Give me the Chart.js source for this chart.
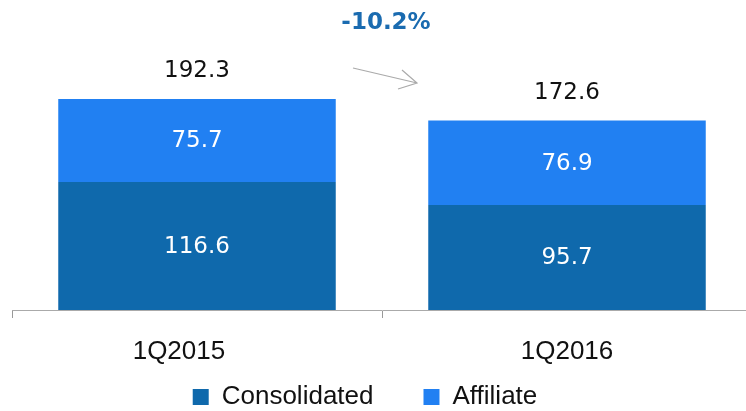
<!DOCTYPE html>
<html>
<head>
<meta charset="utf-8">
<script src="https://cdn.jsdelivr.net/npm/chart.js@4/dist/chart.umd.min.js"></script>
<style>
html,body{margin:0;padding:0;overflow:hidden;background:#fff;width:746px;height:411px;}
#wrap{width:760px;height:458px;position:absolute;left:0;top:0;}
</style>
</head>
<body>
<div id="wrap"><canvas id="c"></canvas></div>
<script>
const categories = ['1Q2015', '1Q2016'];
const consolidated = [116.6, 95.7];
const affiliate = [75.7, 76.9];
const totals = [192.3, 172.6];
const changeLabel = '-10.2%';
// the first category label sits left of its bar in the reference
const labelPad = ['     ', ''];

const labelPlugin = {
  id: 'labels',
  afterLayout(chart) {
    const lg = chart.legend;
    if (lg) { lg.left -= 17; lg.right -= 17; lg.top -= 38; lg.bottom -= 38; }
  },
  afterDatasetsDraw(chart) {
    const ctx = chart.ctx;
    ctx.save();
    ctx.textAlign = 'center';
    ctx.textBaseline = 'middle';
    ctx.font = '23px "DejaVu Sans"';
    ctx.fillStyle = '#ffffff';
    chart.data.datasets.forEach((ds, i) => {
      const meta = chart.getDatasetMeta(i);
      meta.data.forEach((bar, j) => {
        const yc = (bar.y + bar.base) / 2;
        ctx.fillText(ds.data[j].toFixed(1), bar.x, yc + 1);
      });
    });
    const topMeta = chart.getDatasetMeta(1);
    ctx.fillStyle = '#111111';
    topMeta.data.forEach((bar, j) => {
      ctx.fillText(totals[j].toFixed(1), bar.x, bar.y - 28);
    });
    const x0 = topMeta.data[0].x, x1 = topMeta.data[1].x;
    const mid = (x0 + x1) / 2;
    ctx.font = 'bold 23px "DejaVu Sans"';
    ctx.fillStyle = '#1A6BB0';
    ctx.fillText(changeLabel, mid + 4, 23);
    ctx.strokeStyle = '#aaaaaa';
    ctx.lineWidth = 1.2;
    ctx.beginPath();
    ctx.moveTo(mid - 29, 68);
    ctx.lineTo(mid + 35, 83);
    ctx.moveTo(mid + 20, 70);
    ctx.lineTo(mid + 35, 83);
    ctx.lineTo(mid + 16, 89);
    ctx.stroke();
    ctx.restore();
  }
};

new Chart(document.getElementById('c'), {
  type: 'bar',
  data: {
    labels: categories,
    datasets: [
      { label: 'Consolidated', data: consolidated, backgroundColor: '#0F69AC', borderWidth: 0 },
      { label: 'Affiliate', data: affiliate, backgroundColor: '#2180F2', borderWidth: 0 }
    ]
  },
  options: {
    responsive: true,
    maintainAspectRatio: false,
    animation: false,
    layout: { padding: { left: 12, right: 8, top: 0, bottom: 0 } },
    categoryPercentage: 1.0,
    barPercentage: 0.75,
    scales: {
      x: {
        stacked: true,
        grid: { display: true, drawOnChartArea: false, drawTicks: true, tickLength: 8, color: '#999999', offset: true },
        border: { display: true, color: '#aaaaaa', width: 1 },
        ticks: {
          color: '#111111',
          font: { family: 'Liberation Sans', size: 26 },
          padding: 18,
          callback: (v, i) => categories[i] + labelPad[i]
        },
        afterFit(axis) { axis.height = 62; }
      },
      y: {
        stacked: true,
        display: false,
        min: 0,
        max: 282.5
      }
    },
    plugins: {
      legend: {
        position: 'bottom',
        labels: {
          boxWidth: 16,
          boxHeight: 16,
          padding: 50,
          color: '#111111',
          font: { family: 'Liberation Sans', size: 26 }
        }
      },
      tooltip: { enabled: false }
    }
  },
  plugins: [labelPlugin]
});
</script>
</body>
</html>
